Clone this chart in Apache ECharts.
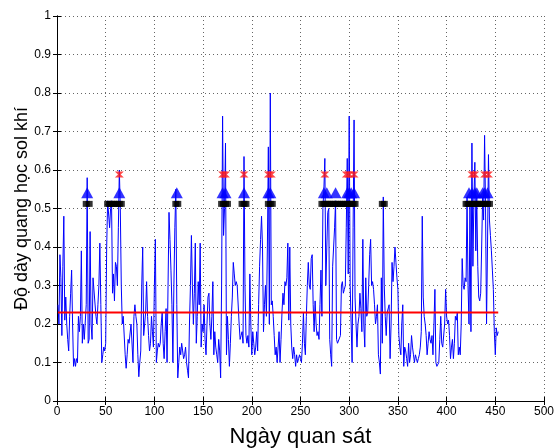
<!DOCTYPE html>
<html>
<head>
<meta charset="utf-8">
<script src="https://cdn.jsdelivr.net/npm/echarts@6/dist/echarts.min.js"></script>
<style>
html, body { margin: 0; padding: 0; background: #fff; }
#chart { width: 557px; height: 448px; }
</style>
</head>
<body>
<div id="chart"></div>
<script>
// do quang hoc sol khi theo ngay (ngay 1 .. 453)
var aod = [
    0.25, 0.20, 0.38, 0.32, 0.17, 0.35, 0.48, 0.21, 0.27, 0.20,
    0.16, 0.13, 0.22, 0.28, 0.34, 0.20, 0.09, 0.11, 0.09, 0.11,
    0.10, 0.22, 0.18, 0.22, 0.39, 0.15, 0.20, 0.16, 0.16, 0.25,
    0.58, 0.15, 0.16, 0.44, 0.20, 0.16, 0.32, 0.32, 0.32, 0.22,
    0.20, 0.25, 0.30, 0.41, 0.25, 0.10, 0.12, 0.14, 0.13, 0.15,
    0.40, 0.52, 0.52, 0.45, 0.50, 0.52, 0.28, 0.33, 0.26, 0.36,
    0.35, 0.30, 0.45, 0.60, 0.50, 0.30, 0.20, 0.22, 0.22, 0.12,
    0.085, 0.12, 0.16, 0.15, 0.15, 0.20, 0.20, 0.10, 0.22, 0.25,
    0.22, 0.20, 0.12, 0.063, 0.10, 0.13, 0.30, 0.40, 0.17, 0.20,
    0.23, 0.31, 0.22, 0.17, 0.13, 0.15, 0.22, 0.18, 0.14, 0.30,
    0.42, 0.10, 0.13, 0.15, 0.14, 0.15, 0.20, 0.23, 0.15, 0.11,
    0.18, 0.24, 0.10, 0.30, 0.49, 0.42, 0.34, 0.25, 0.10, 0.30,
    0.45, 0.55, 0.25, 0.06, 0.10, 0.14, 0.12, 0.15, 0.13, 0.11,
    0.12, 0.14, 0.10, 0.08, 0.06, 0.20, 0.30, 0.43, 0.30, 0.20,
    0.28, 0.41, 0.15, 0.22, 0.31, 0.25, 0.41, 0.14, 0.20, 0.18,
    0.25, 0.16, 0.12, 0.20, 0.27, 0.28, 0.20, 0.16, 0.22, 0.31,
    0.12, 0.18, 0.14, 0.12, 0.10, 0.16, 0.13, 0.06, 0.30, 0.74,
    0.43, 0.50, 0.67, 0.12, 0.22, 0.16, 0.09, 0.15, 0.22, 0.27,
    0.36, 0.33, 0.30, 0.31, 0.30, 0.30, 0.20, 0.16, 0.17, 0.18,
    0.15, 0.635, 0.30, 0.17, 0.15, 0.17, 0.14, 0.33, 0.20, 0.12,
    0.18, 0.15, 0.12, 0.14, 0.18, 0.13, 0.25, 0.35, 0.42, 0.48,
    0.40, 0.18, 0.25, 0.30, 0.22, 0.40, 0.66, 0.20, 0.80, 0.25,
    0.26, 0.22, 0.17, 0.12, 0.14, 0.10, 0.14, 0.18, 0.10, 0.16,
    0.23, 0.28, 0.25, 0.31, 0.30, 0.32, 0.41, 0.21, 0.40, 0.20,
    0.14, 0.11, 0.14, 0.12, 0.09, 0.12, 0.10, 0.11, 0.12, 0.11,
    0.10, 0.15, 0.23, 0.15, 0.12, 0.22, 0.30, 0.36, 0.30, 0.29,
    0.37, 0.38, 0.25, 0.18, 0.26, 0.20, 0.17, 0.18, 0.16, 0.25,
    0.34, 0.22, 0.50, 0.55, 0.63, 0.30, 0.40, 0.49, 0.50, 0.16,
    0.12, 0.09, 0.35, 0.40, 0.45, 0.52, 0.16, 0.15, 0.15, 0.15,
    0.17, 0.30, 0.31, 0.28, 0.29, 0.30, 0.45, 0.63, 0.33, 0.74,
    0.30, 0.20, 0.10, 0.45, 0.73, 0.27, 0.20, 0.14, 0.20, 0.22,
    0.28, 0.24, 0.18, 0.42, 0.20, 0.14, 0.32, 0.22, 0.23, 0.30,
    0.38, 0.42, 0.30, 0.31, 0.29, 0.25, 0.20, 0.22, 0.25, 0.12,
    0.10, 0.07, 0.32, 0.15, 0.53, 0.30, 0.22, 0.17, 0.23, 0.23,
    0.25, 0.11, 0.20, 0.36, 0.31, 0.35, 0.40, 0.36, 0.32, 0.29,
    0.17, 0.14, 0.12, 0.20, 0.25, 0.09, 0.14, 0.13, 0.11, 0.09,
    0.15, 0.10, 0.12, 0.17, 0.14, 0.12, 0.10, 0.12, 0.11, 0.10,
    0.11, 0.12, 0.14, 0.18, 0.48, 0.27, 0.22, 0.20, 0.17, 0.12,
    0.15, 0.18, 0.16, 0.15, 0.17, 0.12, 0.20, 0.29, 0.10, 0.09,
    0.09, 0.10, 0.16, 0.22, 0.15, 0.14, 0.14, 0.20, 0.29, 0.22,
    0.20, 0.21, 0.17, 0.11, 0.14, 0.16, 0.11, 0.15, 0.22, 0.21,
    0.23, 0.12, 0.14, 0.12, 0.20, 0.37, 0.30, 0.29, 0.32, 0.31,
    0.53, 0.30, 0.20, 0.51, 0.18, 0.67, 0.35, 0.52, 0.62, 0.39,
    0.53, 0.35, 0.27, 0.26, 0.28, 0.40, 0.53, 0.47, 0.69, 0.50,
    0.20, 0.40, 0.64, 0.47, 0.43, 0.39, 0.34, 0.29, 0.18, 0.12,
    0.19, 0.17, 0.18
];

// duong trung binh
var meanValue = 0.23;
var meanRange = [1, 453];

// cac ngay danh dau
var squareDays = [30, 33, 52, 54, 56, 58, 60, 62, 64, 66, 122, 124,
    169, 171, 173, 175, 190, 192, 194, 217, 219, 221,
    272, 274, 276, 278, 280, 282, 284, 286, 288, 290, 292, 294, 296, 298, 300, 302, 304, 306,
    334, 336, 420, 422, 424, 426, 428, 430, 432, 434, 436, 438, 440, 442, 444];
var squareLevel = 0.512;
var triangleDays = [31, 64, 123, 170, 173, 192, 217, 219, 274, 277, 286,
    298, 300, 302, 305, 423, 426, 429, 431, 437, 439, 442];
var triangleLevel = 0.541;
var starDays = [64, 170, 173, 192, 217, 220, 275, 297, 300, 305, 426, 429, 439, 443];
var starLevel = 0.588;

var xTicks = [0, 50, 100, 150, 200, 250, 300, 350, 400, 450, 500];
var yTicks = [0, 0.1, 0.2, 0.3, 0.4, 0.5, 0.6, 0.7, 0.8, 0.9, 1];

var lineData = aod.map(function(v, i) { return [i + 1, v]; });
function level(days, y) {
    return days.map(function(d) { return [d, y]; });
}

var font = 'Liberation Sans, Arial, sans-serif';
var gridLine = { show: true, lineStyle: { color: '#666', type: [1, 3], width: 1 } };

var chart = echarts.init(document.getElementById('chart'));
var option = {
    backgroundColor: '#fff',
    animation: false,
    grid: { left: 57, right: 13, top: 16, bottom: 47, outerBoundsMode: 'none', containLabel: false },
    xAxis: [{
        type: 'value',
        min: xTicks[0],
        max: xTicks[xTicks.length - 1],
        interval: 50,
        name: 'Ngày quan sát',
        nameLocation: 'middle',
        nameGap: 25,
        nameTextStyle: { fontFamily: font, fontSize: 22, color: '#000' },
        axisLine: { onZero: false, lineStyle: { color: '#000', width: 1 } },
        axisTick: { inside: true, length: 4, lineStyle: { color: '#000' } },
        axisLabel: { fontFamily: font, fontSize: 12, color: '#000', margin: 5 },
        splitLine: gridLine
    }, {
        type: 'value',
        position: 'top',
        min: 0, max: 500, interval: 50,
        axisLine: { show: true, lineStyle: { color: '#000' } },
        axisTick: { inside: true, length: 4, lineStyle: { color: '#000' } },
        axisLabel: { show: false },
        splitLine: { show: false }
    }],
    yAxis: [{
        type: 'value',
        min: yTicks[0],
        max: yTicks[yTicks.length - 1],
        interval: 0.1,
        name: 'Độ dày quang học sol khí',
        nameLocation: 'middle',
        nameGap: 26,
        nameMoveOverlap: false,
        nameRotate: 90,
        nameTextStyle: { fontFamily: font, fontSize: 18, color: '#000' },
        axisLine: { show: true, onZero: false, lineStyle: { color: '#000' } },
        axisTick: { show: true, inside: true, length: 4, lineStyle: { color: '#000' } },
        axisLabel: {
            fontFamily: font, fontSize: 12, color: '#000', margin: 6,
            formatter: function(v) { return String(Math.round(v * 10) / 10); }
        },
        splitLine: gridLine
    }, {
        type: 'value',
        position: 'right',
        min: 0, max: 1, interval: 0.1,
        axisLine: { show: true, lineStyle: { color: '#000' } },
        axisTick: { show: true, inside: true, length: 4, lineStyle: { color: '#000' } },
        axisLabel: { show: false },
        splitLine: { show: false }
    }],
    series: [{
        type: 'line',
        data: lineData,
        showSymbol: false,
        lineStyle: { color: '#0000ff', width: 1 },
        z: 2
    }, {
        type: 'line',
        data: [[meanRange[0], meanValue], [meanRange[1], meanValue]],
        showSymbol: false,
        lineStyle: { color: '#ff0000', width: 2 },
        z: 3
    }, {
        type: 'scatter',
        data: level(squareDays, squareLevel),
        symbol: 'rect',
        symbolSize: [7, 6],
        itemStyle: { color: '#000' },
        z: 4
    }, {
        type: 'scatter',
        data: level(triangleDays, triangleLevel),
        symbol: 'triangle',
        symbolSize: [12, 11],
        itemStyle: { color: '#0000ff' },
        z: 4
    }, {
        type: 'scatter',
        data: level(starDays, starLevel),
        symbol: 'path://M0,0L10,0L6.5,3L10,6L0,6L3.5,3Z',
        symbolSize: [9, 6],
        itemStyle: { color: '#ff1a1a' },
        z: 5
    }]
};
chart.setOption(option);
</script>
</body>
</html>
